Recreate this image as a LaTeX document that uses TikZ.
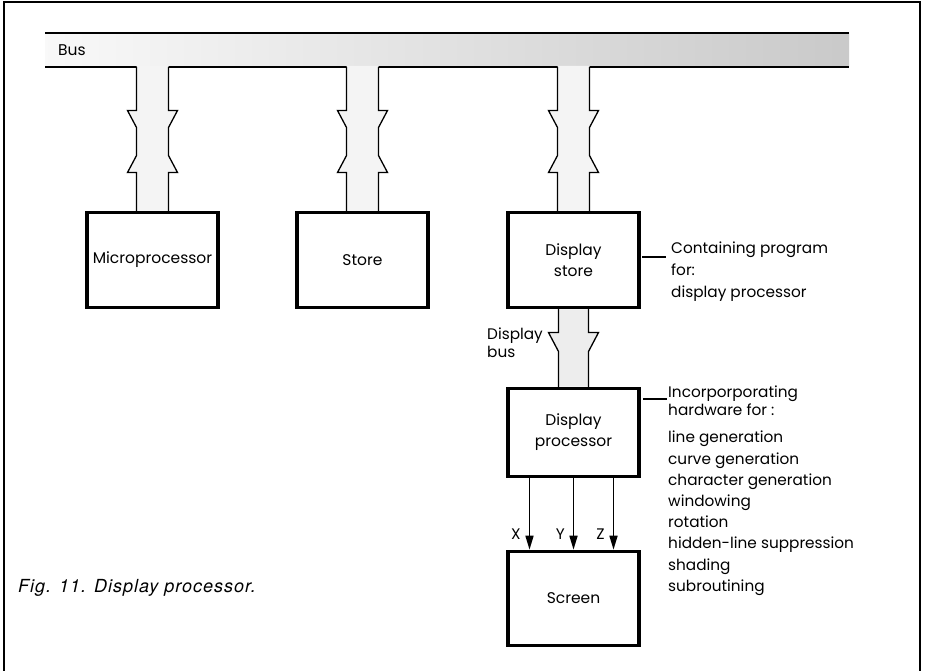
\documentclass[tikz,border=0pt]{standalone}
\usepackage{fontspec}
\setmainfont{Poppins}
\newfontfamily\capfont[LetterSpace=5.5]{TeX Gyre Heros}
\usetikzlibrary{arrows.meta,positioning}
\newcommand\lab{\fontsize{15.5}{21}\selectfont}
\newcommand\notefont[1]{\fontsize{15.3}{#1}\selectfont}
\tikzset{
  >={Triangle[length=14pt,width=8pt]},
  unit/.style={draw,line width=3.6pt,outer sep=0pt,minimum width=131pt,minimum height=95pt,inner sep=2pt,align=center,font=\lab},
  busedge/.style={line width=1.3pt},
  busfill/.style={fill=gray!9},
  arr/.style={->,line width=1.6pt,shorten >=1.8pt},
  tick/.style={line width=1.3pt},
  note/.style={align=left,inner sep=0pt,anchor=north west},
  frame/.style={line width=1.2pt},
}

\begin{document}
\begin{tikzpicture}[x=1pt,y=1pt,node distance=79pt]
\useasboundingbox (0,0) rectangle (931,-671);
\draw[frame] (4,-671) -- (4,-2) -- (920,-2) -- (920,-671);
% system bus
\node[minimum width=804pt,minimum height=34pt,inner sep=0pt,outer sep=0pt,left color=gray!5,right color=gray!42] (bus) at (447,-50) {};
\draw[busedge] (bus.north west) -- (bus.north east);
\draw[busedge] (bus.south west) -- (bus.south east);
\node[font=\lab,inner sep=0pt,right=13pt of bus.west] (buslab) {Bus};
% units
\node[unit] (mp) at (152.5,-260) {Microprocessor};
\node[unit,right=of mp] (st) {Store};
\node[unit,right=80pt of st] (ds) {Display\\store};
\node[unit,below=81pt of ds,minimum height=88pt] (dp) {Display\\processor};
\node[unit,below=75pt of dp,minimum height=94pt] (sc) {Screen};
% drops from the bus
\foreach \u in {mp,st,ds}{
  \begin{scope}[shift={(\u.north)}]
    \fill[busfill] (-16,146.5) -- (-16,102) -- (-25,102) -- (-16,85) -- (-16,57) -- (-25,40) -- (-16,40) -- (-16,1.8)
      -- (16,1.8) -- (16,40) -- (25,40) -- (16,57) -- (16,85) -- (25,102) -- (16,102) -- (16,146.5) -- cycle;
    \draw[busedge] (-16,145.5) -- (-16,102) -- (-25,102) -- (-16,85) -- (-16,57) -- (-25,40) -- (-16,40) -- (-16,0);
    \draw[busedge] (16,145.5) -- (16,102) -- (25,102) -- (16,85) -- (16,57) -- (25,40) -- (16,40) -- (16,0);
  \end{scope}
}
% display bus
\begin{scope}[shift={(ds.south)}]
  \fill[gray!14] (-15,-1.8) -- (-15,-25) -- (-25,-25) -- (-15,-44) -- (-15,-79.2)
    -- (15,-79.2) -- (15,-44) -- (25,-25) -- (15,-25) -- (15,-1.8) -- cycle;
  \draw[busedge] (-15,0) -- (-15,-25) -- (-25,-25) -- (-15,-44) -- (-15,-81);
  \draw[busedge] (15,0) -- (15,-25) -- (25,-25) -- (15,-44) -- (15,-81);
\end{scope}
\node[note,font=\notefont{18}] (dblab) at (487,-328) {Display\\bus};
% outputs to the screen
\foreach \dx/\v in {-44/X,0/Y,40/Z}
  \draw[arr] ([xshift=\dx pt]dp.south) -- node[pos=0.77,left=8pt,font=\notefont{18},inner sep=0pt]{\v} ([xshift=\dx pt]sc.north);
% notes
\draw[tick] ([xshift=3pt,yshift=3pt]ds.east) -- ([xshift=27pt,yshift=3pt]ds.east);
\node[note,font=\notefont{22}] (dsnote) at (671,-242) {Containing program\\for:\\display processor};
\draw[tick] ([xshift=4pt,yshift=-10.5pt]dp.north east) -- ([xshift=28pt,yshift=-10.5pt]dp.north east);
\node[note,font=\notefont{18}] (dpnote) at (668,-386) {Incorporporating\\hardware for :};
\node[note,font=\notefont{21.2}] (dplist) at (668,-431) {line generation\\curve generation\\character generation\\windowing\\rotation\\hidden-line suppression\\shading\\subroutining};
\node[font=\capfont\itshape\fontsize{18}{20}\selectfont,anchor=west,inner sep=0pt] (cap) at (18,-588) {Fig. 11. Display processor.};
\end{tikzpicture}
\end{document}
